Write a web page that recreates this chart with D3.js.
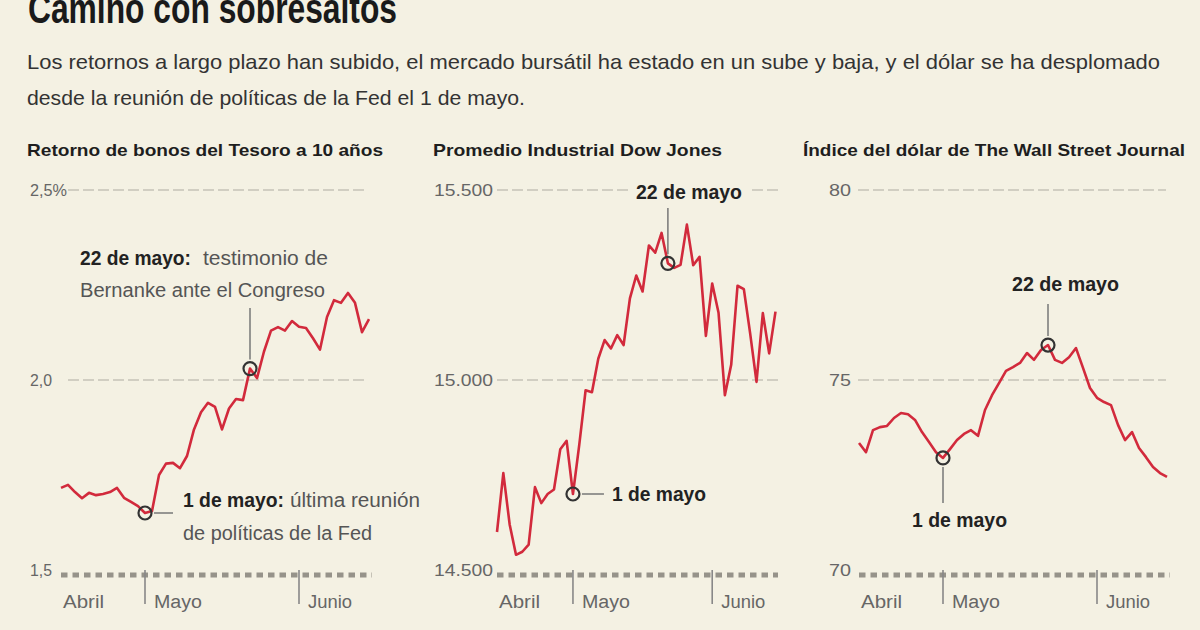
<!DOCTYPE html>
<html><head><meta charset="utf-8">
<script src="https://cdn.jsdelivr.net/npm/d3@7"></script>
<style>body{margin:0;background:#f4f1e3;} svg{display:block}</style>
</head><body><svg id="c" width="1200" height="630"></svg>
<script>
// ---------- data ----------
const dates = ["04-15","04-16","04-17","04-18","04-19","04-22","04-23","04-24","04-25","04-26","04-29","04-30",
  "05-01","05-02","05-03","05-06","05-07","05-08","05-09","05-10","05-13","05-14","05-15","05-16","05-17","05-20","05-21","05-22","05-23","05-24","05-28","05-29","05-30","05-31",
  "06-03","06-04","06-05","06-06","06-07","06-10","06-11","06-12","06-13","06-14","06-17"];
const yieldValues = [1.716,1.724,1.705,1.689,1.703,1.697,1.700,1.705,1.716,1.690,1.679,1.668,1.650,1.655,1.750,1.780,1.782,1.768,1.800,1.870,1.915,1.940,1.929,1.870,1.925,1.950,1.947,2.030,2.005,2.075,2.130,2.139,2.130,2.155,2.140,2.137,2.110,2.080,2.166,2.210,2.203,2.229,2.203,2.126,2.160];
const dowValues = [14600,14755,14620,14540,14548,14567,14718,14676,14700,14712,14818,14840,14700,14830,14973,14968,15056,15105,15083,15118,15092,15215,15275,15233,15354,15335,15387,15307,15295,15303,15409,15302,15324,15116,15254,15177,14960,15040,15248,15239,15122,14995,15176,15070,15180];
const dollarValues = [73.34,73.10,73.68,73.76,73.79,74.00,74.13,74.10,73.95,73.63,73.37,73.10,72.95,73.18,73.42,73.58,73.68,73.53,74.21,74.60,74.92,75.24,75.34,75.45,75.71,75.53,75.79,75.92,75.53,75.45,75.60,75.84,75.32,74.79,74.53,74.42,74.34,73.82,73.42,73.63,73.21,72.97,72.71,72.55,72.45];

const yieldTicks = [1.5, 2.0, 2.5];
const yieldTickLabels = ["1,5", "2,0", "2,5%"];
const dowTicks = [14500, 15000, 15500];
const dowTickLabels = ["14.500", "15.000", "15.500"];
const dollarTicks = [70, 75, 80];
const dollarTickLabels = ["70", "75", "80"];

const monthLabels = ["Abril", "Mayo", "Junio"];
const monthStarts = ["04-15", "05-01", "06-03"];
const eventDates = ["05-01", "05-22"];

const panelTitles = ["Retorno de bonos del Tesoro a 10 años", "Promedio Industrial Dow Jones", "Índice del dólar de The Wall Street Journal"];
const title = "Camino con sobresaltos";
const subtitle = ["Los retornos a largo plazo han subido, el mercado bursátil ha estado en un sube y baja, y el dólar se ha desplomado",
                  "desde la reunión de políticas de la Fed el 1 de mayo."];

// ---------- drawing ----------
const svg = d3.select("#c");
const FONT = "'Liberation Sans Narrow','Arial Narrow','Liberation Sans',Arial,sans-serif";
const RED = "#d22a3c", DARK = "#222", GRAY = "#666";

svg.append("rect").attr("width",1200).attr("height",630).attr("fill","#f4f1e3");

function txt(g, x, y, s, o) {
  o = o || {};
  const t = g.append("text").attr("x", x).attr("y", y).text(s)
    .attr("font-family", FONT).attr("font-size", o.size || 18)
    .attr("font-weight", o.weight || "normal").attr("fill", o.fill || DARK)
    .attr("text-anchor", o.anchor || "start");
  if (o.width) t.attr("textLength", o.width).attr("lengthAdjust", "spacingAndGlyphs");
  return t;
}

txt(svg, 28, 23, title, {size: 42, weight: "bold", width: 369, fill: "#1a1a1a"});
txt(svg, 27, 69, subtitle[0], {size: 21, width: 1133, fill: "#333"});
txt(svg, 27, 105, subtitle[1], {size: 21, width: 498, fill: "#333"});

const panels = [
  {title: panelTitles[0], tx: 27, tw: 356, values: yieldValues, ticks: yieldTicks, labels: yieldTickLabels,
   x0: 61, x1: 369, labelX: 30, labelW: [22, 22, 37], gx0: 68, gx1: 368, ax0: 61, ax1: 372},
  {title: panelTitles[1], tx: 433, tw: 289, values: dowValues, ticks: dowTicks, labels: dowTickLabels,
   x0: 497, x1: 775.5, labelX: 434, labelW: [59, 59, 59], gx0: 497, gx1: 778, ax0: 497, ax1: 778},
  {title: panelTitles[2], tx: 803, tw: 382, values: dollarValues, ticks: dollarTicks, labels: dollarTickLabels,
   x0: 859, x1: 1167, labelX: 829, labelW: [22, 22, 22], gx0: 858, gx1: 1166, ax0: 859, ax1: 1170}
];

panels.forEach((p, pi) => {
  const g = svg.append("g");
  const x = d3.scalePoint().domain(dates).range([p.x0, p.x1]);
  const y = d3.scaleLinear().domain([p.ticks[0], p.ticks[2]]).range([570, 190]);
  p.x = x; p.y = y; p.g = g;

  txt(g, p.tx, 156, p.title, {size: 17, weight: "bold", width: p.tw, fill: "#1e1e1e"});

  // gridlines at middle and top ticks
  p.ticks.slice(1).forEach(t => {
    g.append("line").attr("x1", p.gx0).attr("x2", p.gx1).attr("y1", y(t)).attr("y2", y(t))
      .attr("stroke", "#aeaba1").attr("stroke-width", 1.2).attr("stroke-dasharray", "11,4");
  });
  // y labels
  p.ticks.forEach((t, i) => {
    txt(g, p.labelX, y(t) + 6, p.labels[i], {size: 17, fill: GRAY, width: p.labelW[i]});
  });
  // bottom axis: dashed strip
  g.append("line").attr("x1", p.ax0).attr("x2", p.ax1).attr("y1", 575).attr("y2", 575)
    .attr("stroke", "#96938a").attr("stroke-width", 5).attr("stroke-dasharray", "6.5,5");
  // month separators and labels
  monthStarts.forEach((m, i) => {
    if (i > 0) {
      g.append("line").attr("x1", x(m)).attr("x2", x(m)).attr("y1", 570).attr("y2", 604)
        .attr("stroke", "#888", ).attr("stroke-width", 1.6);
    }
    txt(g, i === 0 ? x(m) + 2 : x(m) + 9, 608, monthLabels[i], {size: 18, fill: GRAY, width: [41, 48, 44][i]});
  });

  // line
  const line = d3.line().x((d, i) => x(dates[i])).y(d => y(d)).curve(d3.curveLinear);
  g.append("path").datum(p.values).attr("d", line).attr("fill", "none")
    .attr("stroke", RED).attr("stroke-width", 2.6).attr("stroke-linejoin", "round");
});

function circ(p, date) {
  const i = dates.indexOf(date);
  const cx = p.x(date), cy = p.y(p.values[i]);
  p.g.append("circle").attr("cx", cx).attr("cy", cy).attr("r", 6.5)
    .attr("fill", "none").attr("stroke", "#333").attr("stroke-width", 2.2);
  return [cx, cy];
}
function lead(g, x1, y1, x2, y2) {
  g.append("line").attr("x1", x1).attr("y1", y1).attr("x2", x2).attr("y2", y2)
    .attr("stroke", "#777").attr("stroke-width", 1.5);
}

// Panel 1 annotations
{
  const p = panels[0];
  const [ax, ay] = circ(p, eventDates[0]);
  const [bx, by] = circ(p, eventDates[1]);
  lead(p.g, ax + 9, ay, ax + 28, ay);
  lead(p.g, bx, by - 9, bx, 308);
  txt(p.g, 80, 265, "22 de mayo:", {size: 20, weight: "bold", width: 111});
  txt(p.g, 203, 265, "testimonio de", {size: 20, fill: "#555", width: 125});
  txt(p.g, 80, 297, "Bernanke ante el Congreso", {size: 20, fill: "#555", width: 245});
  txt(p.g, 183, 507, "1 de mayo:", {size: 20, weight: "bold", width: 101});
  txt(p.g, 290, 507, "última reunión", {size: 20, fill: "#555", width: 130});
  txt(p.g, 183, 540, "de políticas de la Fed", {size: 20, fill: "#555", width: 189});
}
// Panel 2 annotations
{
  const p = panels[1];
  const [ax, ay] = circ(p, eventDates[0]);
  const [bx, by] = circ(p, eventDates[1]);
  lead(p.g, ax + 9, ay, ax + 31, ay);
  txt(p.g, 612, ay + 7, "1 de mayo", {size: 20, weight: "bold", width: 94});
  p.g.append("rect").attr("x", 630).attr("y", 178).attr("width", 118).attr("height", 26).attr("fill", "#f4f1e3");
  txt(p.g, 636, 199, "22 de mayo", {size: 20, weight: "bold", width: 106});
  lead(p.g, bx, 208, bx, by - 9);
}
// Panel 3 annotations
{
  const p = panels[2];
  const [ax, ay] = circ(p, eventDates[0]);
  const [bx, by] = circ(p, eventDates[1]);
  lead(p.g, ax, ay + 9, ax, 503);
  txt(p.g, ax - 31, 527, "1 de mayo", {size: 20, weight: "bold", width: 95});
  lead(p.g, bx, 304, bx, by - 9);
  txt(p.g, 1012, 291, "22 de mayo", {size: 20, weight: "bold", width: 107});
}
</script>
</body></html>
